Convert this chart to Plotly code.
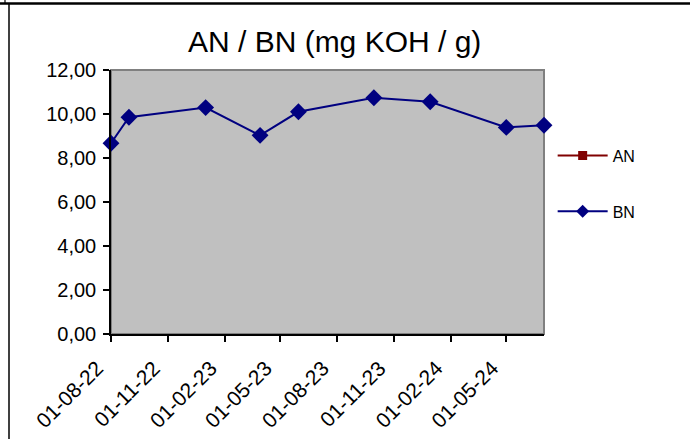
import plotly.graph_objects as go

# Data
bn_dates = ["2022-08-01", "2022-08-30", "2023-01-01", "2023-03-30", "2023-05-31",
            "2023-09-30", "2023-12-30", "2024-05-01", "2024-07-01"]
bn_values = [8.67, 9.85, 10.29, 9.03, 10.10, 10.74, 10.56, 9.39, 9.49]
an_dates = ["2022-08-01"]
an_values = [None]

tick_dates = ["2022-08-01", "2022-11-01", "2023-02-01", "2023-05-01",
              "2023-08-01", "2023-11-01", "2024-02-01", "2024-05-01"]
tick_labels = ["01-08-22", "01-11-22", "01-02-23", "01-05-23",
               "01-08-23", "01-11-23", "01-02-24", "01-05-24"]
y_ticks = [0, 2, 4, 6, 8, 10, 12]

FONT = "Liberation Sans, Arial, sans-serif"

fig = go.Figure()
fig.add_trace(go.Scatter(
    x=an_dates, y=an_values, name="AN", mode="lines+markers",
    line=dict(color="#800000", width=2),
    marker=dict(symbol="square", size=9, color="#800000"),
    legendgroup="an",
))
fig.add_trace(go.Scatter(
    x=bn_dates, y=bn_values, name="BN", mode="lines+markers",
    line=dict(color="#000080", width=2),
    marker=dict(symbol="diamond", size=13, color="#000080"),
    legendgroup="bn", cliponaxis=False, showlegend=False,
))
# legend entry for BN with the smaller legend symbol
fig.add_trace(go.Scatter(
    x=an_dates, y=an_values, name="BN", mode="lines+markers",
    line=dict(color="#000080", width=2),
    marker=dict(symbol="diamond", size=10, color="#000080"),
    legendgroup="bn",
))

fig.update_layout(
    width=690, height=439,
    margin=dict(l=111, r=146, t=70, b=105, autoexpand=False),
    paper_bgcolor="white",
    plot_bgcolor="#C0C0C0",
    separators=", ",
    font=dict(family=FONT, color="black", size=16),
    title=dict(text="AN / BN (mg KOH / g)", font=dict(size=30, family=FONT),
               xref="container", x=0.485, xanchor="center",
               yref="container", y=0.905, yanchor="middle"),
    showlegend=True,
    legend=dict(x=1.02, y=0.74, xanchor="left", yanchor="top",
                font=dict(size=16, family=FONT), tracegroupgap=32,
                bgcolor="rgba(0,0,0,0)", itemwidth=50),
    xaxis=dict(
        type="date", range=["2022-08-01", "2024-07-01"],
        tickvals=tick_dates, ticktext=tick_labels, tickangle=-45,
        showgrid=False, zeroline=False, automargin=False,
        showline=True, linecolor="black", linewidth=1.5,
        ticks="outside", ticklen=6, tickwidth=1.5, tickcolor="black",
        tickfont=dict(size=21, family=FONT),
        ticklabelstandoff=6, ticklabelshift=-14,
    ),
    yaxis=dict(
        range=[0, 12], tickvals=y_ticks, tickformat=".2f",
        showgrid=False, zeroline=False, automargin=False,
        showline=True, linecolor="black", linewidth=1.5,
        ticks="outside", ticklen=6, tickwidth=1.5, tickcolor="black",
        tickfont=dict(size=20, family=FONT), ticklabelstandoff=3,
    ),
    shapes=[
        dict(type="rect", xref="paper", yref="paper", x0=0, x1=1, y0=0, y1=1,
             line=dict(color="#808080", width=2), layer="below"),
        dict(type="line", xref="paper", yref="paper", x0=-111/433, x1=(690-111)/433,
             y0=(439-105-3.5)/264, y1=(439-105-3.5)/264,
             line=dict(color="black", width=2.5)),
        dict(type="line", xref="paper", yref="paper", x0=(9-111)/433, x1=(9-111)/433,
             y0=(439-105-3.5)/264, y1=-105/264 - 0.01,
             line=dict(color="black", width=1.5)),
        dict(type="line", xref="paper", yref="paper", x0=(5-111)/433, x1=(5-111)/433,
             y0=(439-105)/264, y1=(439-105-4)/264,
             line=dict(color="black", width=1.2)),
    ],
)

fig.write_html("out.html", config={"displayModeBar": False},
               post_script="document.body.style.margin='0px';document.body.style.overflow='hidden';")
